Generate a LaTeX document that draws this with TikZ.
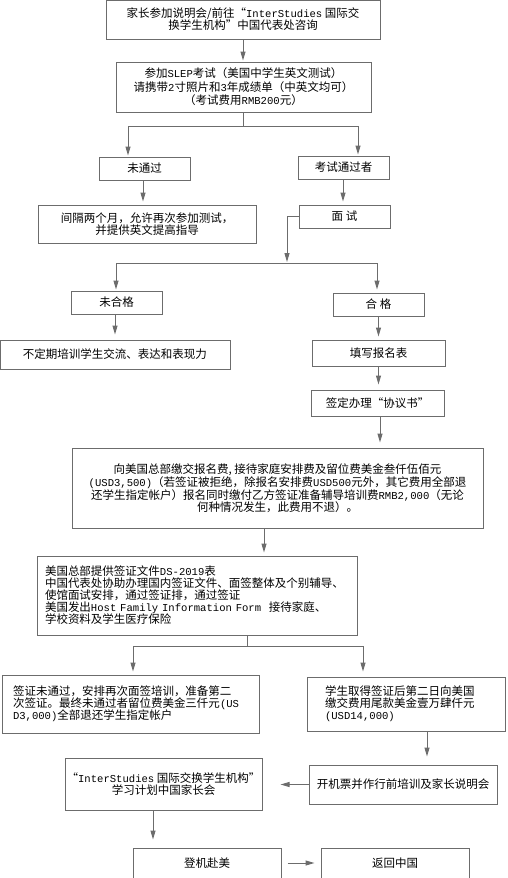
\documentclass[tikz,border=0pt]{standalone}
\usepackage{fontspec}
\setmainfont{Noto Sans CJK SC}
\newfontfamily\enfont{Liberation Mono}[Scale=0.92]
\newcommand{\en}[1]{{\enfont #1}}
\usetikzlibrary{positioning, arrows.meta}
\definecolor{linegray}{RGB}{108,108,108}

\begin{document}
\begin{tikzpicture}[x=1pt, y=-1pt]
    \tikzstyle{box}=[
        draw = linegray,
        line width = 1pt,
        inner sep = 0pt,
        align = center,
        font = \fontsize{11.5}{12}\selectfont
    ]
    \tikzstyle{line}=[draw = linegray, line width = 1pt]
    \tikzstyle{flow}=[line, -{Triangle[length=9pt, width=5pt]}, shorten >=1pt]
    \useasboundingbox (0,0) rectangle (507,878);

    % boxes, top to bottom
    \node[box, minimum width=274, minimum height=39] (info) at (243,19.5)
        {家长参加说明会/前往“\en{InterStudies} 国际交\\换学生机构”中国代表处咨询};
    \node[box, minimum width=255, minimum height=50, font=\fontsize{11.5}{13.5}\selectfont] (slep) at (243.5,87)
        {参加\en{SLEP}考试（美国中学生英文测试）\\请携带\en{2}寸照片和\en{3}年成绩单（中英文均可）\\（考试费用\en{RMB200}元）};
    \node[box, minimum width=91, minimum height=23] (fail) at (144.5,168.5) {未通过};
    \node[box, minimum width=91, minimum height=23] (pass) at (343.5,167.5) {考试通过者};
    \node[box, minimum width=218, minimum height=38] (retry) at (147,224)
        {间隔两个月，允许再次参加测试，\\并提供英文提高指导};
    \node[box, minimum width=91, minimum height=23] (interview) at (344.5,216.5) {面\ 试};
    \node[box, minimum width=91, minimum height=23] (unqual) at (116.5,302.5) {未合格};
    \node[box, minimum width=91, minimum height=23] (qual) at (378.5,304.5) {合\ 格};
    \node[box, minimum width=230, minimum height=29] (train) at (115,354.5) {不定期培训学生交流、表达和表现力};
    \node[box, minimum width=133, minimum height=26] (form) at (378.5,353) {填写报名表};
    \node[box, minimum width=133, minimum height=26] (agree) at (377.5,403) {签定办理“协议书”};
    \node[box, minimum width=411, minimum height=80] (fee) at (277.5,488)
        {向美国总部缴交报名费, 接待家庭安排费及留位费美金叁仟伍佰元\\
         \en{(USD3,500)}（若签证被拒绝，除报名安排费\en{USD500}元外，其它费用全部退\\
         还学生指定帐户）报名同时缴付乙方签证准备辅导培训费\en{RMB2,000}（无论\\
         何种情况发生，此费用不退）。};
    \node[box, align=left, text width=304, inner xsep=8, minimum height=79] (visa) at (197,595.5)
        {美国总部提供签证文件\en{DS-2019}表\\
         中国代表处协助办理国内签证文件、面签整体及个别辅导、\\
         使馆面试安排，通过签证排，通过签证\\
         美国发出\en{Host Family Information Form}\ \ 接待家庭、\\
         学校资料及学生医疗保险\\[-3pt]};
    \node[box, align=left, text width=235, inner xsep=11, minimum height=58] (refuse) at (130.5,704)
        {签证未通过，安排再次面签培训，准备第二\\
         次签证。最终未通过者留位费美金三仟元\en{(US}\\
         \en{D3,000)}全部退还学生指定帐户\\[2pt]};
    \node[box, align=left, text width=162, inner xsep=18, minimum height=54] (balance) at (406,704)
        {学生取得签证后第二日向美国\\
         缴交费用尾款美金壹万肆仟元\\
         \en{(USD14,000)}\\[2pt]};
    \node[box, minimum width=188, minimum height=39] (ticket) at (403,784.5) {开机票并作行前培训及家长说明会};
    \node[box, minimum width=197, minimum height=52] (meeting) at (163.5,784)
        {“\en{InterStudies} 国际交换学生机构”\\学习计划中国家长会};
    \node[box, minimum width=148, minimum height=30] (board) at (207,863) {登机赴美};
    \node[box, minimum width=148, minimum height=30] (home) at (395,863) {返回中国};

    % branch points
    \coordinate (split) at (243.5,126);
    \coordinate (failtop) at (128,126);
    \coordinate (passtop) at (358,126);
    \coordinate (join) at (287,263);
    \coordinate (unqualtop) at (116,263);
    \coordinate (qualtop) at (377,263);
    \coordinate (vsplit) at (247,646);
    \coordinate (refusetop) at (133,646);
    \coordinate (balancetop) at (363,646);

    \draw[flow] (info.south) -- (info.south |- slep.north);
    \draw[line] (slep.south) -- (split);
    \draw[line] (failtop) -- (passtop);
    \draw[flow] (failtop) -- (failtop |- fail.north);
    \draw[flow] (passtop) -- (passtop |- pass.north);
    \draw[flow, shorten >=3pt] ([xshift=-1.5pt]fail.south) -- ([xshift=-1.5pt]fail.south |- retry.north);
    \draw[flow, shorten >=3pt] ([xshift=-0.5pt]pass.south) -- ([xshift=-0.5pt]pass.south |- interview.north);
    \draw[flow] (interview.west) -| (join);
    \draw[line] (unqualtop) -- (qualtop);
    \draw[flow] (unqualtop) -- (unqualtop |- unqual.north);
    \draw[flow, shorten >=3pt] (qualtop) -- (qualtop |- qual.north);
    \draw[flow, shorten >=5pt] ([xshift=-1.5pt]unqual.south) -- ([xshift=-1.5pt]unqual.south |- train.north);
    \draw[flow, shorten >=3pt] (form.north |- qual.south) -- (form.north);
    \draw[flow, shorten >=5pt] (form.south) -- (form.south |- agree.north);
    \draw[flow, shorten >=5pt] ([xshift=2.5pt]agree.south) -- ([xshift=2.5pt]agree.south |- fee.north);
    \draw[flow, shorten >=3pt] ([xshift=-13.5pt]fee.south) -- ([xshift=-13.5pt]fee.south |- visa.north);
    \draw[line] (vsplit |- visa.south) -- (vsplit);
    \draw[line] (refusetop) -- (balancetop);
    \draw[flow, shorten >=3pt] (refusetop) -- (refusetop |- refuse.north);
    \draw[flow, shorten >=5pt] (balancetop) -- (balancetop |- balance.north);
    \draw[flow, shorten >=8pt] ([xshift=21pt]balance.south) -- ([xshift=21pt]balance.south |- ticket.north);
    \draw[flow, shorten >=18pt] (ticket.west) -- (ticket.west -| meeting.east);
    \draw[flow, shorten >=8pt] ([xshift=-10.5pt]meeting.south) -- ([xshift=-10.5pt]meeting.south |- board.north);
    \draw[flow, shorten <=6pt, shorten >=6pt] (board.east) -- (home.west);
\end{tikzpicture}
\end{document}
